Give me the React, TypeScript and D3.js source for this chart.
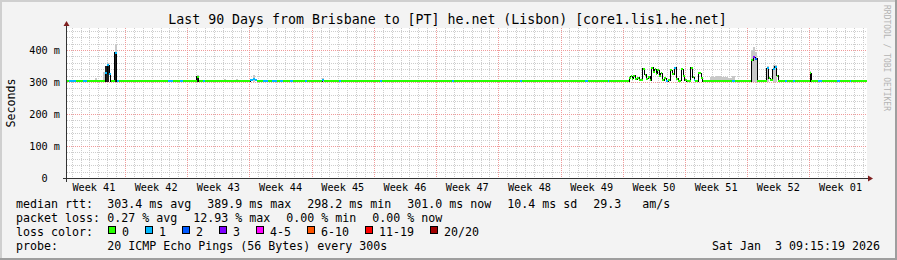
import React from "react";
import * as d3 from "d3";

const TITLE = "Last 90 Days from Brisbane to [PT] he.net (Lisbon) [core1.lis1.he.net]";
const WATERMARK = "RRDTOOL / TOBI OETIKER";
const Y_UNIT = "Seconds";

// x domain in days since window start (90 days)
const windowDays = 90;
const weekLabels = ["Week 41", "Week 42", "Week 43", "Week 44", "Week 45", "Week 46", "Week 47", "Week 48", "Week 49", "Week 50", "Week 51", "Week 52", "Week 01"];
const firstWeekStart = -0.475; // day offset where Week 41 begins
const firstDayLine = 0.525; // day offset of the first midnight

// y in ms
const yMaxMs = 468.75;
const yTicks = [0, 100, 200, 300, 400];
const yTickLabels = ["0  ", "100 m", "200 m", "300 m", "400 m"];

// median rtt step series: start day, value (ms), loss bucket
const stepDays = [0, 0.225, 1.013, 1.8, 2.25, 4.275, 4.5, 4.725, 4.894, 5.344, 5.569, 5.85, 11.363, 11.925, 12.713, 13.05, 14.569, 14.794, 15.3, 15.525, 20.588, 20.869, 21.15, 21.375, 22.05, 22.613, 23.063, 23.625, 23.963, 24.3, 25.088, 25.425, 26.775, 27, 28.688, 28.913, 30.6, 30.825, 35.213, 35.438, 43.313, 43.538, 50.963, 51.188, 58.275, 58.613, 60.863, 61.031, 63.225, 63.394, 63.563, 63.731, 63.9, 64.125, 64.35, 64.744, 64.969, 65.138, 65.363, 65.588, 65.756, 65.925, 66.094, 66.263, 66.431, 66.6, 66.769, 66.938, 67.163, 67.388, 67.613, 67.838, 68.063, 68.288, 68.513, 68.738, 69.075, 69.3, 69.469, 69.694, 70.144, 70.369, 70.538, 70.706, 70.988, 71.325, 71.494, 74.813, 75.15, 77.006, 77.175, 77.4, 77.625, 78.694, 78.919, 79.088, 79.369, 79.594, 79.819, 79.988, 80.775, 80.944, 81.675, 81.9, 83.588, 83.756, 84.488, 84.938, 86.625, 86.963, 88.088, 88.256];
const medianMs = [302, 302, 302, 302, 302, 328, 352, 325, 302, 392, 302, 302, 302, 302, 302, 302, 316, 302, 302, 302, 305, 308, 305, 302, 302, 302, 302, 302, 302, 302, 302, 302, 302, 302, 306, 302, 304, 302, 302, 302, 302, 302, 302, 302, 302, 302, 302, 302, 312, 318, 310, 320, 308, 314, 306, 342, 322, 310, 316, 306, 345, 330, 340, 326, 336, 318, 328, 306, 312, 302, 305, 337, 325, 345, 310, 304, 340, 320, 305, 302, 345, 315, 306, 302, 327, 312, 302, 302, 302, 368, 378, 372, 302, 343, 312, 305, 340, 347, 320, 302, 302, 302, 302, 302, 327, 302, 302, 302, 302, 302, 302, 302];
const lossIdx = [0, 1, 0, 1, 0, 1, 1, 1, 0, 1, 1, 0, 1, 0, 1, 0, 0, 0, 1, 0, 1, 1, 1, 0, 1, 0, 1, 0, 1, 0, 1, 0, 1, 0, 1, 0, 1, 0, 1, 0, 1, 0, 1, 0, 1, 0, 1, 0, 0, 0, 0, 0, 0, 0, 0, 0, 0, 0, 0, 0, 0, 0, 0, 0, 0, 0, 0, 0, 0, 1, 0, 0, 0, 1, 0, 0, 0, 0, 0, 0, 0, 0, 1, 0, 0, 0, 0, 1, 0, 0, 3, 2, 0, 1, 0, 0, 1, 1, 0, 0, 1, 0, 1, 0, 0, 0, 1, 0, 1, 0, 1, 0];

// light smoke (ping spread) : start day, end day, top (ms)
const smokeStart = [3.15, 4.05, 4.275, 4.5, 5.344, 14.569, 17.663, 19.013, 20.869, 28.688, 72.338, 73.013, 73.688, 74.363, 74.813, 77.006, 77.175, 77.4, 78.694, 79.369, 83.588];
const smokeEnd = [3.375, 4.275, 4.5, 4.725, 5.569, 14.794, 17.888, 19.238, 21.15, 28.913, 73.013, 73.688, 74.363, 74.813, 75.15, 77.175, 77.4, 77.625, 78.919, 79.819, 83.756];
const smokeTopMs = [312, 330, 336, 358, 415, 322, 309, 309, 322, 311, 315, 320, 316, 312, 318, 400, 410, 395, 350, 352, 333];
const smokeBaseMs = 300;

// dense core smoke
const coreStart = [4.275, 5.344, 14.569];
const coreEnd = [4.725, 5.569, 14.794];
const coreTopMs = [350, 390, 315];

const lossColors = ["#26ff00", "#00b8ff", "#0059ff", "#7e00ff", "#ff00ff", "#ff5500", "#ff0000", "#a10000"];
const lossLabels = ["0", "1", "2", "3", "4-5", "6-10", "11-19", "20/20"];

const rttLabel = "median rtt:";
const rttStats = ["303.4 ms avg", "389.9 ms max", "298.2 ms min", "301.0 ms now", "10.4 ms sd", "29.3   am/s"];
const lossLabel = "packet loss:";
const lossStats = ["0.27 % avg", "12.93 % max", "0.00 % min", "0.00 % now"];
const colorLabel = "loss color:";
const probeLabel = "probe:";
const probeText = "20 ICMP Echo Pings (56 Bytes) every 300s";
const dateText = "Sat Jan  3 09:15:19 2026";

const MONO = "'DejaVu Sans Mono', monospace";

type TProps = React.SVGProps<SVGTextElement> & { children?: React.ReactNode };
const PreText = (p: TProps) => (
  <text {...p} xmlSpace="preserve" style={{ whiteSpace: "pre" }}>
    {p.children}
  </text>
);

export default function App() {
  const W = 897;
  const H = 260;
  const L = 67, R = 867, T = 28, B = 178;
  const x = d3.scaleLinear().domain([0, windowDays]).range([L, R]);
  const y = d3.scaleLinear().domain([0, yMaxMs]).range([B, T]);
  const c = (v: number) => Math.round(v) + 0.5;

  const dayLines: number[] = [];
  for (let d = firstDayLine; d < windowDays; d += 1) dayLines.push(d);
  const weekLines: number[] = [];
  const weekCenters: number[] = [];
  weekLabels.forEach((_, i) => {
    const s = firstWeekStart + i * 7;
    weekCenters.push(s + 3.5);
    if (i > 0) weekLines.push(s);
  });
  const minorY: number[] = [];
  for (let v = 20; v < yMaxMs; v += 20) if (v % 100 !== 0) minorY.push(v);
  const majorY = yTicks.filter((v) => v > 0);

  const pts: [number, number][] = stepDays.map((d, i) => [d, medianMs[i]]);
  pts.push([windowDays, medianMs[medianMs.length - 1]]);
  const stepLine = d3
    .line<[number, number]>()
    .x((p) => x(p[0]))
    .y((p) => y(p[1]))
    .curve(d3.curveStepAfter)(pts) as string;

  const fs = 11.63;
  const cw = 7;
  const gap = 16;
  const col2 = 107.3;
  const rowY = [208, 222, 236, 250];

  const seq = (items: string[]) => {
    let cx = col2;
    return items.map((s) => {
      const r = { s, x: cx };
      cx += s.length * cw + gap;
      return r;
    });
  };
  const rttItems = seq(rttStats);
  const lossItems = seq(lossStats);
  let bx = 108;
  const boxes = lossLabels.map((lab, i) => {
    const r = { lab, x: bx, color: lossColors[i] };
    bx += 14 + lab.length * cw + gap;
    return r;
  });

  return (
    <svg width={W} height={H} style={{ position: "absolute", left: 0, top: 0, display: "block" }} xmlns="http://www.w3.org/2000/svg">
      <rect x={0} y={0} width={W} height={H} fill="#f3f3f3" />
      <rect x={0} y={0} width={W} height={2} fill="#cfcfcf" />
      <rect x={0} y={0} width={2} height={H} fill="#cfcfcf" />
      <rect x={0} y={H - 2} width={W} height={2} fill="#9e9e9e" />
      <rect x={W - 2} y={0} width={2} height={H} fill="#9e9e9e" />

      {/* title */}
      <PreText x={447.5} y={23.5} textAnchor="middle" fontFamily={MONO} fontSize={13.25} fill="#000">
        {TITLE}
      </PreText>
      {/* watermark */}
      <PreText x={884} y={5} transform="rotate(90 884 5)" fontFamily={MONO} fontSize={8} fill="#b4b4b4">
        {WATERMARK}
      </PreText>

      {/* canvas */}
      <rect x={L} y={T} width={R - L} height={B - T} fill="#ffffff" />

      {/* minor grid */}
      <g stroke="#cdcdcd" strokeWidth={1} strokeDasharray="1 1" shapeRendering="crispEdges">
        {dayLines.map((d) => (
          <line key={"dx" + d} x1={c(x(d))} x2={c(x(d))} y1={T} y2={B} />
        ))}
        {minorY.map((v) => (
          <line key={"my" + v} x1={L} x2={R} y1={c(y(v))} y2={c(y(v))} />
        ))}
      </g>
      {/* major grid */}
      <g stroke="#f09a9a" strokeWidth={1} strokeDasharray="1 1" shapeRendering="crispEdges">
        {weekLines.map((d) => (
          <line key={"wx" + d} x1={c(x(d))} x2={c(x(d))} y1={T} y2={B} />
        ))}
        {majorY.map((v) => (
          <line key={"My" + v} x1={L} x2={R} y1={c(y(v))} y2={c(y(v))} />
        ))}
      </g>

      {/* smoke */}
      <g fill="#c8c8c8" shapeRendering="crispEdges">
        {smokeStart.map((s, i) => (
          <rect key={"s" + i} x={x(s)} width={x(smokeEnd[i]) - x(s)} y={y(smokeTopMs[i])} height={y(smokeBaseMs) - y(smokeTopMs[i])} />
        ))}
      </g>
      <g fill="#1e1e1e" shapeRendering="crispEdges">
        {coreStart.map((s, i) => (
          <rect key={"k" + i} x={x(s)} width={x(coreEnd[i]) - x(s)} y={y(coreTopMs[i])} height={y(smokeBaseMs) - y(coreTopMs[i])} />
        ))}
      </g>

      {/* median */}
      <path d={stepLine} fill="none" stroke="#000" strokeWidth={1} shapeRendering="crispEdges" />
      <g strokeWidth={2} shapeRendering="crispEdges">
        {stepDays.map((d, i) => {
          const e = i + 1 < stepDays.length ? stepDays[i + 1] : windowDays;
          return <line key={"m" + i} x1={x(d)} x2={x(e)} y1={y(medianMs[i])} y2={y(medianMs[i])} stroke={lossColors[lossIdx[i]]} />;
        })}
      </g>

      {/* axes */}
      <g stroke="#333" strokeWidth={1} shapeRendering="crispEdges">
        <line x1={L - 4} x2={R + 2} y1={c(B)} y2={c(B)} />
        <line x1={c(L - 1)} x2={c(L - 1)} y1={B + 4} y2={T - 3} />
      </g>
      <path d={`M${c(L - 1) - 3},${T - 2} L${c(L - 1)},${T - 7} L${c(L - 1) + 3},${T - 2} Z`} fill="#7f1f1f" />
      <path d={`M${R + 1},${c(B) - 3} L${R + 6},${c(B)} L${R + 1},${c(B) + 3} Z`} fill="#7f1f1f" />

      {/* y tick labels */}
      {yTicks.map((v, i) => (
        <PreText key={"yl" + v} x={60} y={y(v) + 3.6} textAnchor="end" fontFamily={MONO} fontSize={10.2} fill="#000">
          {yTickLabels[i]}
        </PreText>
      ))}
      <PreText x={15} y={(T + B) / 2} transform={`rotate(-90 15 ${(T + B) / 2})`} textAnchor="middle" fontFamily={MONO} fontSize={fs} fill="#000">
        {Y_UNIT}
      </PreText>

      {/* x labels */}
      {weekLabels.map((w, i) => (
        <PreText key={w} x={x(weekCenters[i])} y={190.5} textAnchor="middle" fontFamily={MONO} fontSize={10.2} fill="#000">
          {w}
        </PreText>
      ))}

      {/* legend */}
      <g fontFamily={MONO} fontSize={fs} fill="#000">
        <PreText x={16} y={rowY[0]}>{rttLabel}</PreText>
        {rttItems.map((it) => (
          <PreText key={it.s} x={it.x} y={rowY[0]}>{it.s}</PreText>
        ))}
        <PreText x={16} y={rowY[1]}>{lossLabel}</PreText>
        {lossItems.map((it) => (
          <PreText key={it.s} x={it.x} y={rowY[1]}>{it.s}</PreText>
        ))}
        <PreText x={16} y={rowY[2]}>{colorLabel}</PreText>
        {boxes.map((b) => (
          <g key={b.lab}>
            <rect x={b.x + 0.5} y={226.5} width={7} height={7} fill={b.color} stroke="#000" strokeWidth={1} shapeRendering="crispEdges" />
            <PreText x={b.x + 14} y={rowY[2]}>{b.lab}</PreText>
          </g>
        ))}
        <PreText x={16} y={rowY[3]}>{probeLabel}</PreText>
        <PreText x={col2} y={rowY[3]}>{probeText}</PreText>
        <PreText x={880} y={rowY[3]} textAnchor="end">{dateText}</PreText>
      </g>
    </svg>
  );
}
